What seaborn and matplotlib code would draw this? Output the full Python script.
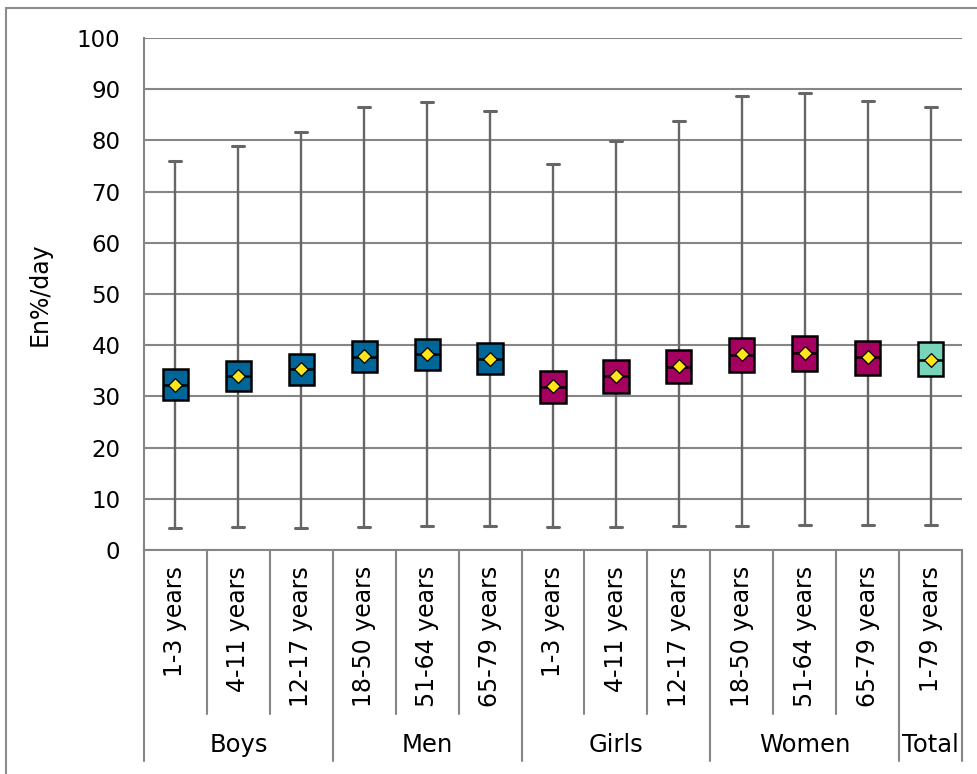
import numpy as np
import pandas as pd
import seaborn as sns
import matplotlib.pyplot as plt
from matplotlib.lines import Line2D
from matplotlib.transforms import blended_transform_factory

# ---- data -------------------------------------------------------------
groups = ["Boys"] * 3 + ["Men"] * 3 + ["Girls"] * 3 + ["Women"] * 3 + ["Total"]
ages = ["1-3 years", "4-11 years", "12-17 years",
        "18-50 years", "51-64 years", "65-79 years",
        "1-3 years", "4-11 years", "12-17 years",
        "18-50 years", "51-64 years", "65-79 years",
        "1-79 years"]

minimum = [4.2, 4.4, 4.2, 4.4, 4.6, 4.6, 4.4, 4.4, 4.6, 4.7, 4.8, 4.8, 4.9]
q1 = [29.3, 31.0, 32.3, 34.7, 35.2, 34.4, 28.7, 30.7, 32.6, 34.7, 35.0, 34.2, 33.9]
median = [32.2, 34.0, 35.4, 37.7, 38.3, 37.4, 31.8, 33.9, 35.8, 38.1, 38.4, 37.6, 37.2]
q3 = [35.3, 37.0, 38.3, 40.8, 41.2, 40.5, 35.0, 37.2, 39.1, 41.5, 41.8, 40.9, 40.6]
maximum = [75.9, 78.9, 81.6, 86.5, 87.5, 85.8, 75.4, 79.8, 83.8, 88.6, 89.2, 87.6, 86.6]
mean = [32.3, 34.0, 35.4, 37.8, 38.3, 37.4, 32.0, 34.0, 36.0, 38.2, 38.5, 37.6, 37.2]

group_order = ["Boys", "Men", "Girls", "Women", "Total"]
group_colors = {"Boys": "#006699", "Men": "#006699",
                "Girls": "#A50060", "Women": "#A50060",
                "Total": "#78D5BA"}

# unique key per box (age labels repeat between sexes)
keys = [f"{g} {a}" for g, a in zip(groups, ages)]

# five-number summaries as long-form rows; with whis=(0, 100) the
# quartiles and whisker ends of five points are exactly these values
rows = []
for k, g, lo, a, m, b, hi in zip(keys, groups, minimum, q1, median, q3, maximum):
    for v in (lo, a, m, b, hi):
        rows.append({"key": k, "group": g, "value": v})
df = pd.DataFrame(rows)
means_df = pd.DataFrame({"key": keys, "mean": mean})

# ---- style ------------------------------------------------------------
sns.set_style("white")
plt.rcParams["font.family"] = ["DejaVu Sans"]
plt.rcParams["text.color"] = "black"
plt.rcParams["ytick.color"] = "black"
plt.rcParams["ytick.labelcolor"] = "black"

GRID = "#868686"
W_FIG, H_FIG = 977, 774
fig = plt.figure(figsize=(W_FIG / 100, H_FIG / 100), dpi=100)
ax = fig.add_axes([144 / W_FIG, 1 - 550 / H_FIG, (962 - 144) / W_FIG, (550 - 38) / H_FIG])

sns.boxplot(
    data=df, x="key", y="value", hue="group", order=keys, hue_order=group_order,
    palette=group_colors, dodge=False, width=0.40, whis=(0, 100),
    saturation=1, showfliers=False, legend=False, ax=ax,
    linecolor="black", linewidth=1.7,
    boxprops={"edgecolor": "black", "linewidth": 1.8, "zorder": 3},
    medianprops={"color": "black", "linewidth": 1.8, "zorder": 4},
    whiskerprops={"color": "#666666", "linewidth": 1.7, "zorder": 2},
    capprops={"color": "#666666", "linewidth": 2.2, "zorder": 2},
    capwidths=0.19,
)

sns.stripplot(
    data=means_df, x="key", y="mean", order=keys, jitter=False,
    marker="D", color="#FFE51A", edgecolor="black", linewidth=0.9,
    size=7, zorder=6, ax=ax,
)

# ---- axes -------------------------------------------------------------
ax.set_xlim(-0.5, len(keys) - 0.5)
ax.set_ylim(0, 100)
ax.set_yticks(np.arange(0, 101, 10))
ax.tick_params(axis="y", length=0, pad=17, labelsize=16.5, labelcolor="black")
ax.tick_params(axis="x", length=0, labelbottom=False)
ax.set_xlabel("")
ax.set_ylabel("")
ax.yaxis.grid(True, color=GRID, linewidth=1.5, zorder=0)
ax.xaxis.grid(False)
ax.set_axisbelow(True)
for side in ("top", "right"):
    ax.spines[side].set_visible(False)
for side in ("left", "bottom"):
    ax.spines[side].set_color(GRID)
    ax.spines[side].set_linewidth(1.5)

# two-level category axis
trans = blended_transform_factory(ax.transData, ax.transAxes)
for i, age in enumerate(ages):
    ax.text(i, -0.031, age, transform=trans, rotation=90,
            ha="center", va="top", fontsize=17, color="black")

group_bounds = {0, 3, 6, 9, 12, 13}
for b in range(len(keys) + 1):
    depth = -0.412 if b in group_bounds else -0.320
    ax.plot([b - 0.5, b - 0.5], [0, depth], transform=trans, clip_on=False,
            color=GRID, linewidth=1.5)

for g in group_order:
    idx = [i for i, gg in enumerate(groups) if gg == g]
    ax.text(np.mean(idx), -0.381, g, transform=trans,
            ha="center", va="center", fontsize=17.5, color="black")

fig.text(40 / W_FIG, 1 - 294 / H_FIG, "En%/day", rotation=90,
         ha="center", va="center", fontsize=17, color="black")

# outer chart frame (left and top edges)
fig.add_artist(Line2D([6 / W_FIG, 6 / W_FIG], [0, 1 - 8 / H_FIG],
                      transform=fig.transFigure, color="#8c8c8c", linewidth=1.5))
fig.add_artist(Line2D([6 / W_FIG, 1], [1 - 8 / H_FIG, 1 - 8 / H_FIG],
                      transform=fig.transFigure, color="#8c8c8c", linewidth=1.5))

fig.savefig("out.png", dpi=100)
